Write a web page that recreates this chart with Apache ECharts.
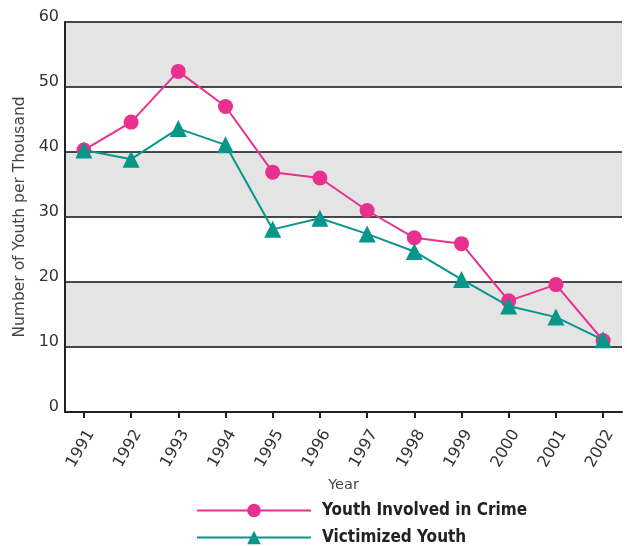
<!DOCTYPE html>
<html>
<head>
<meta charset="utf-8">
<script src="https://cdn.jsdelivr.net/npm/echarts@6/dist/echarts.min.js"></script>
<style>
  html, body { margin: 0; padding: 0; background: #fff; }
  #main { width: 627px; height: 546px; }
</style>
</head>
<body>
<div id="main"></div>
<script>
// data
var years = [1991, 1992, 1993, 1994, 1995, 1996, 1997, 1998, 1999, 2000, 2001, 2002];
var crime = [40.3, 44.6, 52.4, 47.0, 36.9, 36.0, 31.0, 26.8, 25.9, 17.1, 19.6, 11.0];
var victims = [40.3, 38.9, 43.6, 41.1, 28.1, 29.8, 27.4, 24.7, 20.4, 16.3, 14.6, 11.1];

var pink = '#e8318f';
var teal = '#07968a';

function pairs(vals) {
    return years.map(function (y, i) { return [y, vals[i]]; });
}

var chart = echarts.init(document.getElementById('main'));

var option = {
    backgroundColor: '#fff',
    animation: false,
    grid: { left: 65, right: 5, top: 22, bottom: 134, outerBoundsMode: 'none', containLabel: false },
    legend: {
        orient: 'vertical',
        left: 196,
        top: 502,
        height: 80,
        padding: 0,
        itemWidth: 114,
        itemHeight: 17,
        itemGap: 10,
        textStyle: {
            fontFamily: "'DejaVu Sans Condensed', 'Liberation Sans'",
            fontWeight: 'bold',
            fontSize: 17,
            color: '#222',
            padding: [0, 0, 0, 6]
        },
        data: ['Youth Involved in Crime', 'Victimized Youth']
    },
    xAxis: {
        type: 'value',
        min: 1990.6,
        max: 2002.4,
        name: 'Year',
        nameLocation: 'middle',
        nameGap: 66,
        nameTextStyle: { fontFamily: 'DejaVu Sans', fontSize: 14.5, color: '#444' },
        axisLine: { lineStyle: { color: '#222', width: 2 } },
        axisTick: { show: true, customValues: years, length: 6, lineStyle: { color: '#222', width: 2 } },
        axisLabel: {
            customValues: years,
            rotate: 60,
            margin: 15,
            verticalAlign: 'top',
            fontFamily: 'DejaVu Sans',
            fontSize: 16,
            color: '#333',
            formatter: function (v) { return String(Math.round(v)); }
        },
        splitLine: { show: false }
    },
    yAxis: {
        type: 'value',
        min: 0,
        max: 60,
        interval: 10,
        name: 'Number of Youth per Thousand',
        nameLocation: 'middle',
        nameGap: 37,
        nameTextStyle: { fontFamily: 'DejaVu Sans', fontSize: 15.5, color: '#444' },
        axisLine: { show: true, lineStyle: { color: '#222', width: 2 } },
        axisTick: { show: false },
        axisLabel: {
            margin: 6,
            verticalAlign: 'bottom',
            lineHeight: 11,
            fontFamily: 'DejaVu Sans',
            fontSize: 16,
            color: '#333'
        },
        splitLine: { show: true, lineStyle: { color: '#111', width: 1.5 } },
        splitArea: { show: true, areaStyle: { color: ['#fff', '#e4e4e4'] } }
    },
    series: [{
        name: 'Youth Involved in Crime',
        type: 'line',
        symbol: 'circle',
        symbolSize: 15,
        color: pink,
        lineStyle: { color: pink, width: 2 },
        itemStyle: { color: pink },
        z: 3,
        data: pairs(crime)
    }, {
        name: 'Victimized Youth',
        type: 'line',
        symbol: 'triangle',
        symbolSize: 17,
        color: teal,
        lineStyle: { color: teal, width: 2 },
        itemStyle: { color: teal },
        z: 4,
        data: pairs(victims)
    }]
};

chart.setOption(option);
</script>
</body>
</html>
